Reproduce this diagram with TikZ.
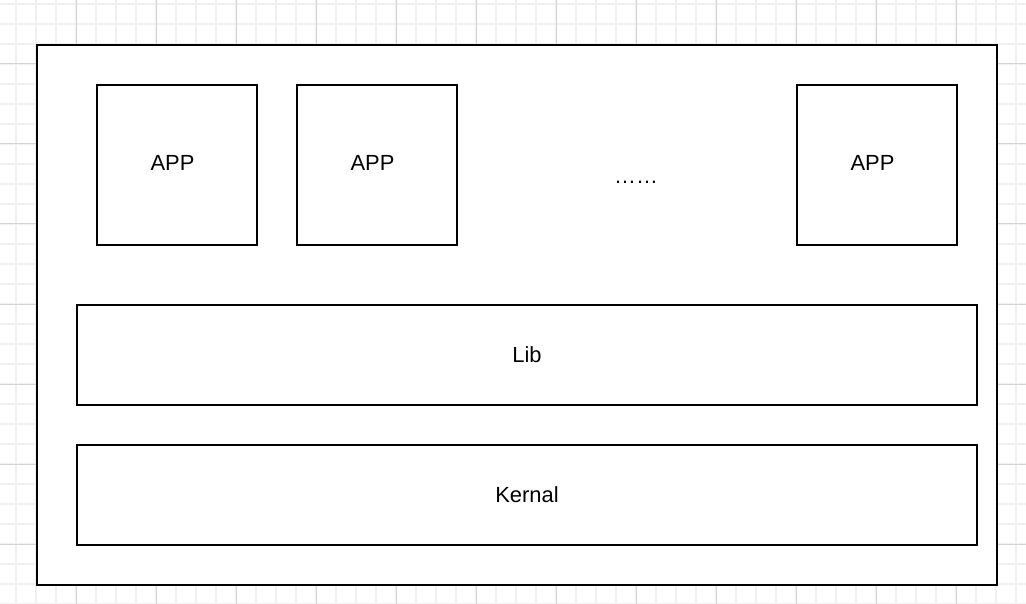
\documentclass[tikz,border=0pt]{standalone}
\usepackage{fontspec}
\setmainfont{Liberation Sans}
\begin{document}
\begin{tikzpicture}[x=1bp,y=-1bp,
  box/.style={draw=black,line width=2bp,fill=white,inner sep=0pt},
  txt/.style={anchor=base,inner sep=0pt,font=\fontsize{22}{26}\selectfont},
  minorgrid/.style={draw={rgb,255:red,240;green,240;blue,240},line width=1.3bp},
  majorgrid/.style={draw={rgb,255:red,212;green,212;blue,212},line width=1bp}]
\useasboundingbox (0,0) rectangle (1026,604);
\fill[white] (0,0) rectangle (1026,604);
\foreach \gx in {-4,16,...,1030} {\draw[minorgrid] (\gx,0) -- (\gx,604);}
\foreach \gy in {4,24,...,604} {\draw[minorgrid] (0,\gy) -- (1026,\gy);}
\foreach \gx in {-4,76,...,1030} {\draw[majorgrid] (\gx,0) -- (\gx,604);}
\foreach \gy in {64,144,...,604} {\draw[majorgrid] (0,\gy) -- (1026,\gy);}
\node[box,minimum width=960bp,minimum height=540bp] (outer) at (517,315) {};
\node[box,minimum width=160bp,minimum height=160bp] (app1) at (177,165) {};
\node[box,minimum width=160bp,minimum height=160bp] (app2) at (377,165) {};
\node[box,minimum width=160bp,minimum height=160bp] (app3) at (877,165) {};
\node[box,minimum width=900bp,minimum height=100bp] (lib) at (527,355) {};
\node[box,minimum width=900bp,minimum height=100bp] (kernal) at (527,495) {};
\node[txt] (t1) at (172.5,171) {APP};
\node[txt] (t2) at (372.5,171) {APP};
\node[txt] (t3) at (872.5,171) {APP};
\node[txt] (dots) at (636,184) {……};
\node[txt] (tlib) at (527,362) {Lib};
\node[txt] (tkernal) at (527,502) {Kernal};
\end{tikzpicture}
\end{document}
